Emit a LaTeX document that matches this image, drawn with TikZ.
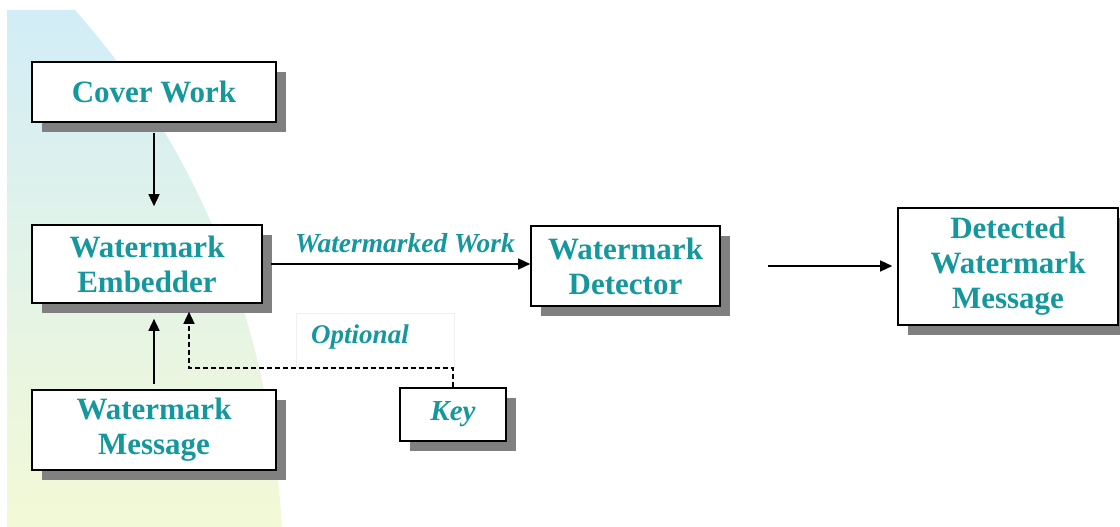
\documentclass[tikz,border=0pt]{standalone}
\usepackage{fontspec}
\setmainfont{Liberation Serif}
\usepackage{tikz}
\definecolor{tl}{RGB}{20, 152, 158}
\definecolor{bgtop}{RGB}{210, 237, 248}
\definecolor{bgmid}{RGB}{222, 241, 228}
\definecolor{bgbot}{RGB}{243, 249, 214}
\definecolor{shd}{RGB}{128, 128, 128}
\usetikzlibrary{positioning}
\usetikzlibrary{shadows}
\usetikzlibrary{arrows.meta}

\begin{document}
\begin{tikzpicture}[
  blk/.style={rectangle, draw=black, line width=1.6pt, fill=white, align=center,
    text=tl, font=\bfseries\fontsize{31}{35}\selectfont,
    drop shadow={shadow xshift=10pt, shadow yshift=-10pt, fill=shd, opacity=1}},
  lbl/.style={text=tl, font=\bfseries\itshape\fontsize{27.5}{30}\selectfont},
  arr/.style={line width=1.4pt, -{Triangle[length=12pt, width=11pt]}},
  darr/.style={arr, dash pattern=on 5pt off 3pt}]
\useasboundingbox (0pt, 0pt) rectangle (1120pt, -527pt);
% background
\shade [top color=bgtop, middle color=bgmid, bottom color=bgbot]
  (7pt, -10pt) -- (75pt, -10pt) .. controls (185pt, -135pt) and (268pt, -300pt) .. (282pt, -527pt)
  -- (7pt, -527pt) -- cycle;
% blocks
\node (cover) [blk, minimum width=244pt, minimum height=60pt] at (154pt, -92pt) {Cover Work};
\node (embed) [blk, minimum width=230pt, minimum height=78pt] at (147pt, -264pt) {Watermark\\Embedder};
\node (wmsg) [blk, minimum width=244pt, minimum height=80pt] at (154pt, -430pt) {Watermark\\Message};
\node (key) [blk, minimum width=106pt, minimum height=53pt, font=\bfseries\itshape\fontsize{29}{31}\selectfont] at (453pt, -414.5pt) {Key};
\node (detector) [blk, minimum width=189pt, minimum height=80pt] at (625.5pt, -266pt) {Watermark\\Detector};
\node (detected) [blk, minimum width=220pt, minimum height=117pt] at (1008pt, -266.5pt) {Detected\\Watermark\\Message};
\node (optbox) [rectangle, draw=black!6, line width=0.8pt, minimum width=158pt, minimum height=54pt] at (375pt, -340pt) {};
\node (optional) [lbl, font=\bfseries\itshape\fontsize{27}{29}\selectfont] at (360pt, -337pt) {Optional};
\node (wmwork) [lbl] at (405pt, -243pt) {Watermarked Work};
\coordinate (bend) at (189pt, -368pt);
% connectors
\draw [arr, shorten <=10pt, shorten >=18pt] (cover.south) -- (cover.south |- embed.north);
\draw [arr, shorten <=8pt] (embed.east) -- (embed.east -| detector.west);
\draw [arr, shorten <=47pt, shorten >=5pt] (detector.east) -- (detector.east -| detected.west);
\draw [arr, shorten <=5pt, shorten >=15pt] (wmsg.north) -- (wmsg.north |- embed.south);
\draw [darr, shorten >=8pt] (key.north) |- (bend) -- (bend |- embed.south);
\end{tikzpicture}
\end{document}
